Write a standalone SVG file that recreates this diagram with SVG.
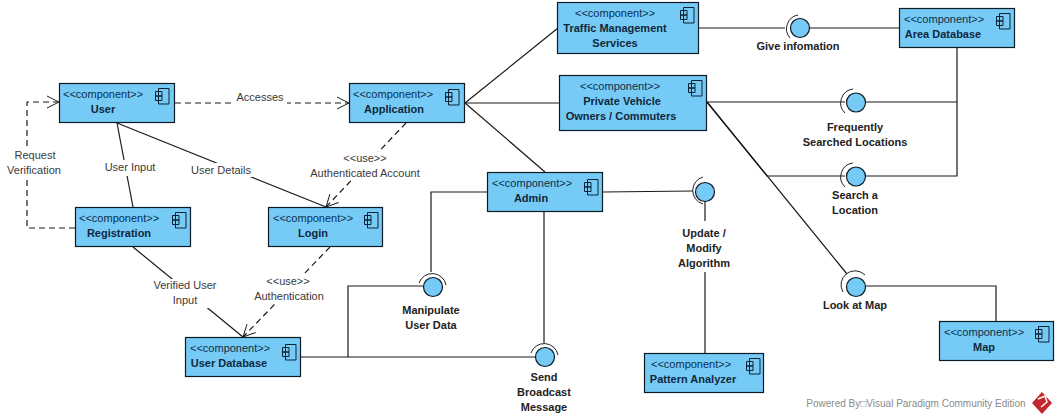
<svg xmlns="http://www.w3.org/2000/svg" width="1058" height="420" viewBox="0 0 1058 420">
<defs>
<style>
text{font-family:"Liberation Sans",Arial,sans-serif;font-size:11px;text-anchor:middle}
.st{fill:#0b2f4d;text-anchor:start}
.nm{font-weight:bold;fill:#10283c}
.lb{fill:#3a3a3a}
.ib{font-weight:bold;fill:#222}
.box{fill:#76cbf6;stroke:#0d1b26;stroke-width:1.2}
.ico{fill:none;stroke:#0d2233;stroke-width:1}
.c{fill:none;stroke:#1a1a1a;stroke-width:1.2}
.d{stroke-dasharray:6 4}
.ball{fill:#76cbf6;stroke:#0d1b26;stroke-width:1.2}
.sock{fill:none;stroke:#222;stroke-width:1}
</style>
<g id="icon"><path class="ico" d="M3.500 0.500H14V16H3.500ZM0.500 3.500H7V8H0.500ZM0.500 8H7V12.500H0.500Z"/></g>
<marker id="op" markerWidth="15" markerHeight="14" refX="13" refY="7" orient="auto" markerUnits="userSpaceOnUse"><path d="M1 1L13 7L1 13" fill="none" stroke="#222" stroke-width="1"/></marker>
</defs>
<rect width="1058" height="420" fill="#fff"/>
<g id="connectors">
<path class="c d" marker-end="url(#op)" d="M175 103H349"/>
<path class="c d" marker-end="url(#op)" d="M75 228H27V102H59"/>
<path class="c" d="M117 123L133 207"/>
<path class="c" d="M117 123L326 207"/>
<path class="c d" marker-end="url(#op)" d="M406 123L326 207"/>
<path class="c d" marker-end="url(#op)" d="M330 247L243 337"/>
<path class="c" d="M133 247L243 337"/>
<path class="c" d="M465 103L558 28"/>
<path class="c" d="M465 103H559"/>
<path class="c" d="M465 103L545 172"/>
<path class="c" d="M699 28H785"/>
<path class="c" d="M809 28H899"/>
<path class="c" d="M707 102H845"/>
<path class="c" d="M866 102H957"/>
<path class="c" d="M957 47V176H866"/>
<path class="c" d="M707 102L767 176H845"/>
<path class="c" d="M707 102L847 274"/>
<path class="c" d="M866 286H996V321"/>
<path class="c" d="M487 192H431V272"/>
<path class="c" d="M348 357V286H423"/>
<path class="c" d="M301 357H535"/>
<path class="c" d="M544 212V343"/>
<path class="c" d="M603 192L693 191"/>
<path class="c" d="M705 201V353"/>
</g>
<g id="labels-bg" fill="#fff">
<rect x="235" y="92" width="52" height="14"/>
<rect x="103" y="160" width="54" height="16"/>
<rect x="190" y="163" width="62" height="14"/>
<rect x="8" y="150" width="56" height="28"/>
<rect x="305" y="152" width="118" height="28"/>
<rect x="150" y="279" width="70" height="29"/>
<rect x="252" y="274" width="74" height="29"/>
<rect x="670" y="221" width="70" height="51"/>
</g>
<g class="lbls">
<text class="lb" x="260" y="101">Accesses</text>
<text class="lb" x="130" y="171">User Input</text>
<text class="lb" x="221" y="174">User Details</text>
<text class="lb" x="35" y="159">Request</text>
<text class="lb" x="34" y="174">Verification</text>
<text class="lb" x="365" y="162">&lt;&lt;use&gt;&gt;</text>
<text class="lb" x="365" y="177">Authenticated Account</text>
<text class="lb" x="185" y="289">Verified User</text>
<text class="lb" x="185" y="304">Input</text>
<text class="lb" x="288" y="285">&lt;&lt;use&gt;&gt;</text>
<text class="lb" x="289" y="300">Authentication</text>
</g>
<g id="user"><rect class="box" x="59.500" y="83.500" width="115" height="39"/><text class="st" x="63" y="98">&lt;&lt;component&gt;&gt;</text><text class="nm" x="103" y="113">User</text><use href="#icon" x="155" y="88"/></g>
<g id="registration"><rect class="box" x="75.500" y="207.500" width="115" height="39"/><text class="st" x="79" y="222">&lt;&lt;component&gt;&gt;</text><text class="nm" x="119" y="237">Registration</text><use href="#icon" x="172" y="212"/></g>
<g id="login"><rect class="box" x="268.500" y="207.500" width="114" height="39"/><text class="st" x="273" y="222">&lt;&lt;component&gt;&gt;</text><text class="nm" x="313" y="237">Login</text><use href="#icon" x="364" y="212"/></g>
<g id="application"><rect class="box" x="349.500" y="83.500" width="115" height="39"/><text class="st" x="353" y="98">&lt;&lt;component&gt;&gt;</text><text class="nm" x="394" y="113">Application</text><use href="#icon" x="445" y="89"/></g>
<g id="user-database"><rect class="box" x="185.500" y="337.500" width="115" height="39"/><text class="st" x="190" y="352">&lt;&lt;component&gt;&gt;</text><text class="nm" x="229" y="367">User Database</text><use href="#icon" x="282" y="344"/></g>
<g id="admin"><rect class="box" x="487.500" y="172.500" width="115" height="39"/><text class="st" x="492" y="187">&lt;&lt;component&gt;&gt;</text><text class="nm" x="531" y="202">Admin</text><use href="#icon" x="584" y="179"/></g>
<g id="pattern-analyzer"><rect class="box" x="644.500" y="353.500" width="119" height="39"/><text class="st" x="651" y="368">&lt;&lt;component&gt;&gt;</text><text class="nm" x="693" y="383">Pattern Analyzer</text><use href="#icon" x="746" y="358"/></g>
<g id="traffic"><rect class="box" x="557.500" y="2.500" width="141" height="51"/><text class="st" x="575" y="17">&lt;&lt;component&gt;&gt;</text><text class="nm" x="615" y="32">Traffic Management</text><text class="nm" x="615" y="47">Services</text><use href="#icon" x="680" y="7"/></g>
<g id="private"><rect class="box" x="559.500" y="75.500" width="147" height="55"/><text class="st" x="580" y="90">&lt;&lt;component&gt;&gt;</text><text class="nm" x="622" y="105">Private Vehicle</text><text class="nm" x="621" y="120">Owners / Commuters</text><use href="#icon" x="688" y="80"/></g>
<g id="area-database"><rect class="box" x="899.500" y="8.500" width="115" height="39"/><text class="st" x="904" y="23">&lt;&lt;component&gt;&gt;</text><text class="nm" x="943" y="38">Area Database</text><use href="#icon" x="996" y="13"/></g>
<g id="map"><rect class="box" x="939.500" y="321.500" width="114" height="39"/><text class="st" x="944" y="336">&lt;&lt;component&gt;&gt;</text><text class="nm" x="984" y="351">Map</text><use href="#icon" x="1035" y="326"/></g>
<g id="give"><path class="sock" d="M798 15A14 14 0 0 0 790 38"/><circle class="ball" cx="800" cy="28" r="9.500"/><text class="ib" x="798" y="50">Give infomation</text></g>
<g id="frequently"><path class="sock" d="M853 89A14 14 0 0 0 845 113"/><circle class="ball" cx="856" cy="102.500" r="9.500"/><text class="ib" x="855" y="131">Frequently</text><text class="ib" x="855" y="146">Searched Locations</text></g>
<g id="search"><path class="sock" d="M853 163A14 14 0 0 0 845 187"/><circle class="ball" cx="856" cy="176.500" r="9.500"/><text class="ib" x="855" y="199">Search a</text><text class="ib" x="855" y="214">Location</text></g>
<g id="look"><path class="sock" d="M843 292A14 14 0 0 1 865 275"/><circle class="ball" cx="856" cy="287" r="9.500"/><text class="ib" x="855" y="309">Look at Map</text></g>
<g id="update"><path class="sock" d="M703 177A14 14 0 0 0 703 204"/><circle class="ball" cx="705" cy="192" r="9.500"/><text class="ib" x="704" y="237">Update /</text><text class="ib" x="704" y="252">Modify</text><text class="ib" x="704" y="267">Algorithm</text></g>
<g id="manipulate"><path class="sock" d="M419 283A14 14 0 0 1 446 285"/><circle class="ball" cx="433" cy="287" r="9.500"/><text class="ib" x="431" y="314">Manipulate</text><text class="ib" x="431" y="329">User Data</text></g>
<g id="send"><path class="sock" d="M531 353A14 14 0 0 1 558 355"/><circle class="ball" cx="545" cy="357" r="9.500"/><text class="ib" x="544" y="381">Send</text><text class="ib" x="544" y="396">Broadcast</text><text class="ib" x="544" y="411">Message</text></g>
<g id="watermark"><text x="916" y="407" style="fill:#8a8a8a;font-size:10px">Powered By□Visual Paradigm Community Edition</text><path d="M1042 392L1052 403L1042 414L1032 403Z" fill="#c1272d"/><path d="M1038 399L1045 396L1047 402L1041 407" fill="none" stroke="#fff" stroke-width="1.500"/></g>
</svg>
